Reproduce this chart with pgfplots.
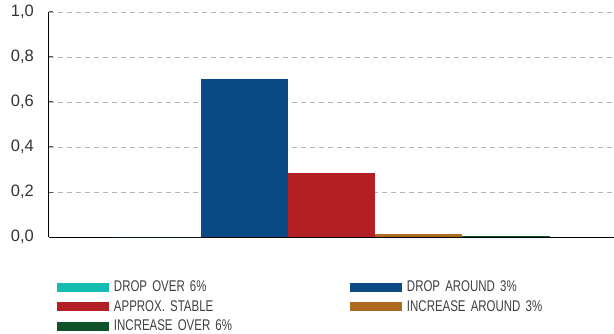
\documentclass[border=0pt]{standalone}
\usepackage{fontspec}
\setmainfont{Liberation Sans}
\newfontfamily\condfont{Liberation Sans}[FakeStretch=0.74]
\usepackage{pgfplots}
\pgfplotsset{compat=1.18}
\definecolor{cCyan}{HTML}{14BDB0}
\definecolor{cBlue}{HTML}{0B4A85}
\definecolor{cRed}{HTML}{B21F25}
\definecolor{cOrange}{HTML}{AD6B22}
\definecolor{cGreen}{HTML}{0F5229}
\definecolor{gridgray}{HTML}{B4B4B4}
\begin{document}
\begin{tikzpicture}
\path[use as bounding box] (-49bp,-97bp) rectangle (565bp,237bp);
\begin{axis}[
  anchor=south west,
  at={(0,0)},
  scale only axis,
  width=565bp, height=225bp,
  xmin=-1, xmax=1,
  ymin=0, ymax=1,
  ybar=0pt,
  bar width=87.2bp,
  xtick=\empty,
  ytick={0,0.2,0.4,0.6,0.8,1.0},
  axis x line*=bottom,
  axis y line*=left,
  axis line style={-, black, line width=1bp},
  tick align=inside,
  major tick length=4bp,
  ytick style={gray!70!black, line width=1bp},
  ymajorgrids,
  grid style={gridgray, line width=0.9bp, dash pattern=on 5bp off 4bp},
  /pgf/number format/assume math mode=true,
  /pgf/number format/use comma,
  /pgf/number format/fixed,
  /pgf/number format/fixed zerofill,
  /pgf/number format/precision=1,
  yticklabel style={font=\fontsize{16.5bp}{18bp}\selectfont, text=black!80, inner sep=0pt, anchor=east, xshift=-15bp},
  legend columns=2,
  legend cell align=left,
  legend image code/.code={\fill[#1] (0bp,-4.5bp) rectangle (52bp,4.5bp);},
  legend style={
    at={(0,0)}, anchor=north west, xshift=8bp, yshift=-43.5bp,
    draw=none, fill=none, inner sep=0pt, outer sep=0pt,
    column sep=5bp, row sep=6.5bp,
    nodes={inner sep=0pt, text width=231bp, text height=11bp, text depth=2bp,
      font=\condfont\fontsize{15.5bp}{18bp}\selectfont, text=black!75},
  },
]
\addplot[fill=cCyan, draw=none] coordinates {(0,0)};
\addlegendentry{DROP OVER 6\%}
\addplot[fill=cBlue, draw=none] coordinates {(0,0.702)};
\addlegendentry{DROP AROUND 3\%}
\addplot[fill=cRed, draw=none] coordinates {(0,0.285)};
\addlegendentry{APPROX. STABLE}
\addplot[fill=cOrange, draw=none] coordinates {(0,0.013)};
\addlegendentry{INCREASE AROUND 3\%}
\addplot[fill=cGreen, draw=none] coordinates {(0,0.005)};
\addlegendentry{INCREASE OVER 6\%}
\end{axis}
\end{tikzpicture}
\end{document}
